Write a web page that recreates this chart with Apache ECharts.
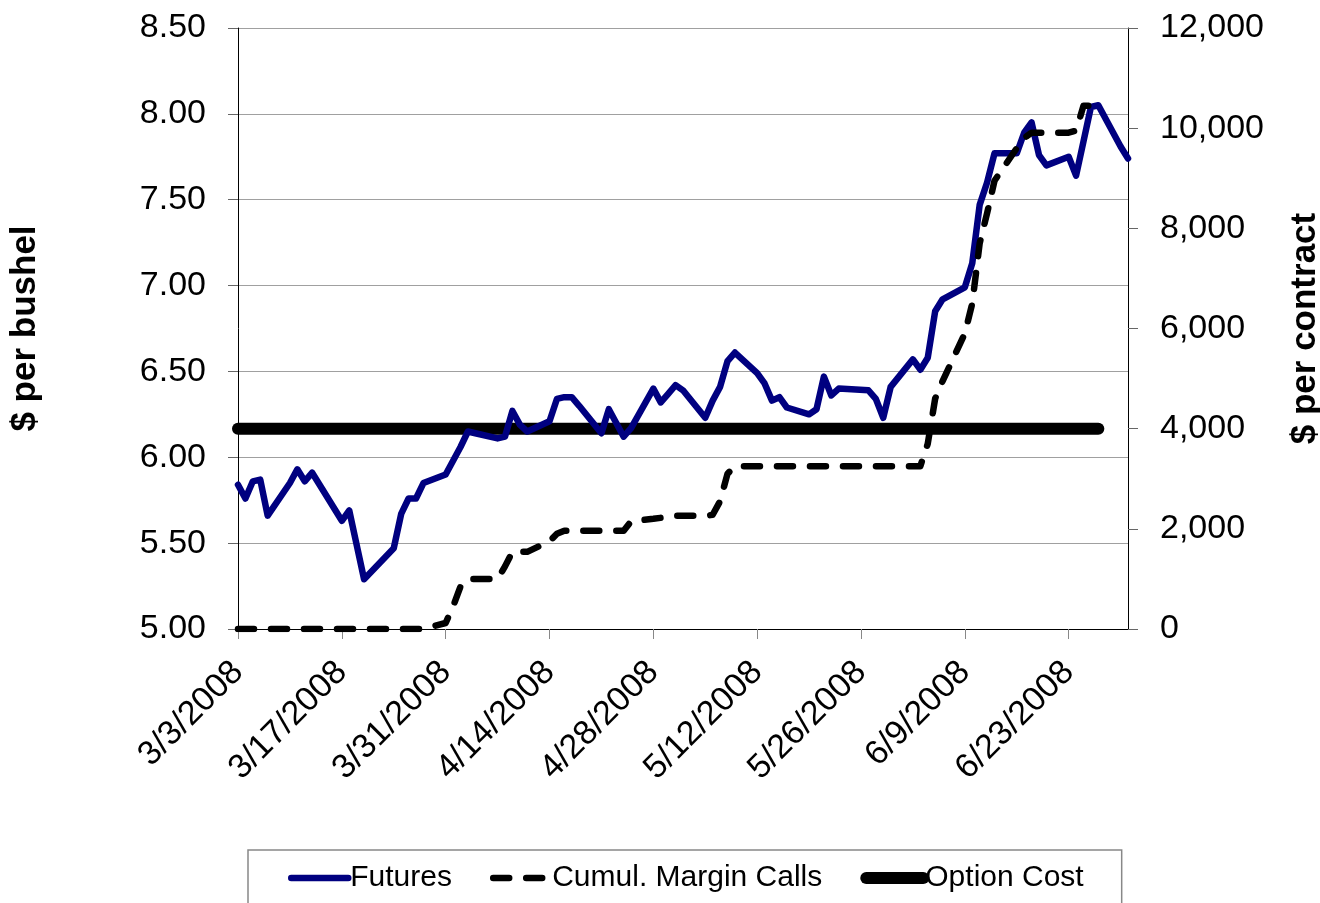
<!DOCTYPE html>
<html>
<head>
<meta charset="utf-8">
<script src="https://cdn.jsdelivr.net/npm/echarts@6/dist/echarts.min.js"></script>
<style>
html,body{margin:0;padding:0;background:#fff}
#chart{width:1320px;height:903px}
</style>
</head>
<body>
<div id="chart"></div>
<script>
// trading days, 2008
var dates = ['3/3/2008','3/4/2008','3/5/2008','3/6/2008','3/7/2008','3/10/2008','3/11/2008','3/12/2008','3/13/2008','3/14/2008',
  '3/17/2008','3/18/2008','3/19/2008','3/20/2008','3/24/2008','3/25/2008','3/26/2008','3/27/2008','3/28/2008','3/31/2008',
  '4/1/2008','4/2/2008','4/3/2008','4/4/2008','4/7/2008','4/8/2008','4/9/2008','4/10/2008','4/11/2008','4/14/2008',
  '4/15/2008','4/16/2008','4/17/2008','4/18/2008','4/21/2008','4/22/2008','4/23/2008','4/24/2008','4/25/2008','4/28/2008',
  '4/29/2008','4/30/2008','5/1/2008','5/2/2008','5/5/2008','5/6/2008','5/7/2008','5/8/2008','5/9/2008','5/12/2008',
  '5/13/2008','5/14/2008','5/15/2008','5/16/2008','5/19/2008','5/20/2008','5/21/2008','5/22/2008','5/23/2008','5/27/2008',
  '5/28/2008','5/29/2008','5/30/2008','6/2/2008','6/3/2008','6/4/2008','6/5/2008','6/6/2008','6/9/2008','6/10/2008',
  '6/11/2008','6/12/2008','6/13/2008','6/16/2008','6/17/2008','6/18/2008','6/19/2008','6/20/2008','6/23/2008','6/24/2008',
  '6/25/2008','6/26/2008','6/27/2008','6/30/2008','7/1/2008'];

var futures = [5.84,5.76,5.86,5.87,5.66,5.85,5.93,5.86,5.91,5.84,
  5.63,5.69,5.49,5.29,5.47,5.67,5.76,5.76,5.85,5.90,
  5.98,6.06,6.15,6.14,6.11,6.12,6.27,6.19,6.15,6.21,
  6.34,6.35,6.35,6.30,6.14,6.28,6.20,6.12,6.17,6.40,
  6.32,6.37,6.42,6.39,6.23,6.33,6.41,6.56,6.61,6.49,
  6.43,6.33,6.35,6.29,6.25,6.28,6.47,6.36,6.40,6.39,
  6.34,6.23,6.41,6.57,6.51,6.58,6.85,6.92,6.99,7.13,
  7.47,7.60,7.77,7.77,7.89,7.95,7.76,7.70,7.75,7.64,
  7.84,8.04,8.05,7.81,7.74];

var marginCalls = [0,0,0,0,0,0,0,0,0,0,
  0,0,0,0,0,0,0,0,0,120,
  450,850,1000,1000,1000,1250,1540,1540,1540,1750,
  1900,1960,1960,1960,1960,1960,1960,1960,2150,2200,
  2220,2250,2260,2260,2260,2280,2550,3100,3250,3250,
  3250,3250,3250,3250,3250,3250,3250,3250,3250,3250,
  3250,3250,3250,3250,3250,3700,4600,4950,5900,6500,
  7700,8300,8950,9600,9800,9910,9910,9910,9910,9950,
  10450,10450,10450,null,null];

var optionDates = ['3/3/2008','6/27/2008'];
var optionCost = [4000,4000];

var axisEnd = '7/1/2008';

function dayNum(s){
  var p = s.split('/');
  return Date.UTC(+p[2], +p[0]-1, +p[1]) / 864e5;
}
var day0 = dayNum(dates[0]);
function offset(s){ return dayNum(s) - day0; }
function dateLabel(v){
  var d = new Date((day0 + v) * 864e5);
  return (d.getUTCMonth()+1) + '/' + d.getUTCDate() + '/' + d.getUTCFullYear();
}
function pairs(xs, ys){
  return xs.map(function(x, i){ return [offset(x), ys[i]]; });
}

var font = 'Liberation Sans, Arial, Helvetica, sans-serif';

var chart = echarts.init(document.getElementById('chart'));
chart.setOption({
  backgroundColor:'#fff',
  animation:false,
  grid:{left:238, top:28, right:192, bottom:274, containLabel:false, outerBoundsMode:'none'},
  legend:{
    left:248, top:850,
    padding:[13,38,30,40],
    itemWidth:57, itemHeight:14, itemGap:38,
    borderColor:'#888', borderWidth:1.5,
    textStyle:{fontFamily:font, fontSize:30, color:'#000', padding:[0,0,0,-3]},
    lineStyle:{width:'inherit'},
    itemStyle:{opacity:0},
    data:['Futures','Cumul. Margin Calls','Option Cost']
  },
  xAxis:{
    type:'value',
    min:0, max:offset(axisEnd), interval:14,
    axisLine:{lineStyle:{color:'#000', width:1}},
    axisTick:{show:true, length:10, lineStyle:{color:'#888'}},
    splitLine:{show:false},
    axisLabel:{
      rotate:45, margin:38, showMaxLabel:false,
      fontFamily:font, fontSize:34, color:'#000',
      formatter:function(v){ return v % 14 === 0 ? dateLabel(v) : ''; }
    }
  },
  yAxis:[{
    type:'value', min:5, max:8.5, interval:0.5,
    name:'$ per bushel', nameLocation:'middle', nameRotate:90, nameGap:195,
    nameTextStyle:{fontFamily:font, fontSize:35, fontWeight:'bold', color:'#000'},
    axisLine:{show:true, lineStyle:{color:'#000', width:1}},
    axisTick:{show:true, length:10, lineStyle:{color:'#666'}},
    splitLine:{show:true, lineStyle:{color:'#a0a0a0', width:1}},
    axisLabel:{margin:32, fontFamily:font, fontSize:34, color:'#000',
      formatter:function(v){ return v.toFixed(2); }}
  },{
    type:'value', min:0, max:12000, interval:2000,
    name:'$ per contract', nameLocation:'middle', nameRotate:90, nameGap:160,
    nameTextStyle:{fontFamily:font, fontSize:35, fontWeight:'bold', color:'#000'},
    axisLine:{show:true, lineStyle:{color:'#000', width:1}},
    axisTick:{show:true, length:10, lineStyle:{color:'#666'}},
    splitLine:{show:false},
    axisLabel:{margin:32, fontFamily:font, fontSize:34, color:'#000',
      formatter:function(v){ return v.toLocaleString('en-US'); }}
  }],
  series:[{
    name:'Futures', type:'line', yAxisIndex:0,
    data:pairs(dates, futures),
    symbol:'none', color:'#000080',
    lineStyle:{color:'#000080', width:6.5, cap:'round', join:'round'},
    z:3
  },{
    name:'Cumul. Margin Calls', type:'line', yAxisIndex:1,
    data:pairs(dates, marginCalls),
    symbol:'none', color:'#000',
    lineStyle:{color:'#000', width:6.5, type:[16,17], cap:'round', join:'round'},
    z:4
  },{
    name:'Option Cost', type:'line', yAxisIndex:1,
    data:pairs(optionDates, optionCost),
    symbol:'none', color:'#000',
    lineStyle:{color:'#000', width:12, cap:'round'},
    z:2
  }]
});
</script>
</body>
</html>
